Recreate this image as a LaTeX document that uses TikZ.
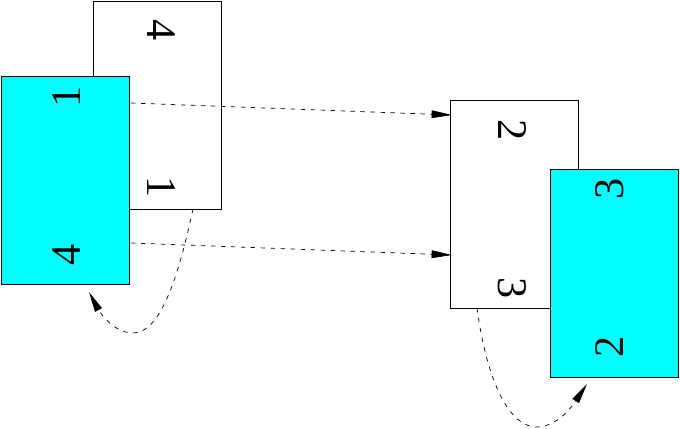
\documentclass[tikz,border=0pt]{standalone}
\usepackage{fontspec}
\setmainfont{Liberation Serif}
\usetikzlibrary{arrows.meta}
\definecolor{leafcyan}{RGB}{0,255,255}

\begin{document}
\begin{tikzpicture}[x=0.025cm, y=0.025cm,
  sheet/.style={draw=black, line width=0.5pt, minimum width=3.2cm, minimum height=5.2cm, inner sep=0pt, outer sep=0pt},
  digit/.style={inner sep=0pt, font=\fontsize{30}{30}\selectfont},
  link/.style={draw=black, line width=0.5pt, dash pattern=on 3.2pt off 3.9pt, -{Triangle[length=14.5pt,width=5.5pt]}}]

\useasboundingbox (0,0) rectangle (680,429);

% left pair
\node[sheet, fill=white] (backL) at (157,324) {};
\node[digit, rotate=-90] (backLtop) at (161,399) {4};
\node[digit, rotate=-90] (backLbot) at (161,242) {1};
\node[sheet, fill=leafcyan] (frontL) at (65,248.5) {};
\node[digit, rotate=90] (frontLtop) at (67,332) {1};
\node[digit, rotate=90] (frontLbot) at (67,174) {4};

% right pair
\node[sheet, fill=white] (backR) at (514.5,224.5) {};
\node[digit, rotate=-90] (backRtop) at (512,299) {2};
\node[digit, rotate=-90] (backRbot) at (512,141) {3};
\node[sheet, fill=leafcyan] (frontR) at (614,156) {};
\node[digit, rotate=90] (frontRtop) at (610,240) {3};
\node[digit, rotate=90] (frontRbot) at (610,82) {2};

% end points
\coordinate (s1) at (131,326);
\coordinate (t1) at (452,314);
\coordinate (s2) at (131,186);
\coordinate (t2) at (452,174);
\coordinate (s3) at (193,220);
\coordinate (t3) at (89,137);
\coordinate (s4) at (477,121);
\coordinate (t4) at (587,45);

\draw [link] (s1) -- (t1);
\draw [link] (s2) -- (t2);
\draw [link] (s3) .. controls (178,150) and (160,96) .. (133,96) .. controls (112,96) and (98,120) .. (t3);
\draw [link] (s4) .. controls (485,60) and (505,2) .. (537,2) .. controls (560,2) and (577,30) .. (t4);

\end{tikzpicture}
\end{document}
